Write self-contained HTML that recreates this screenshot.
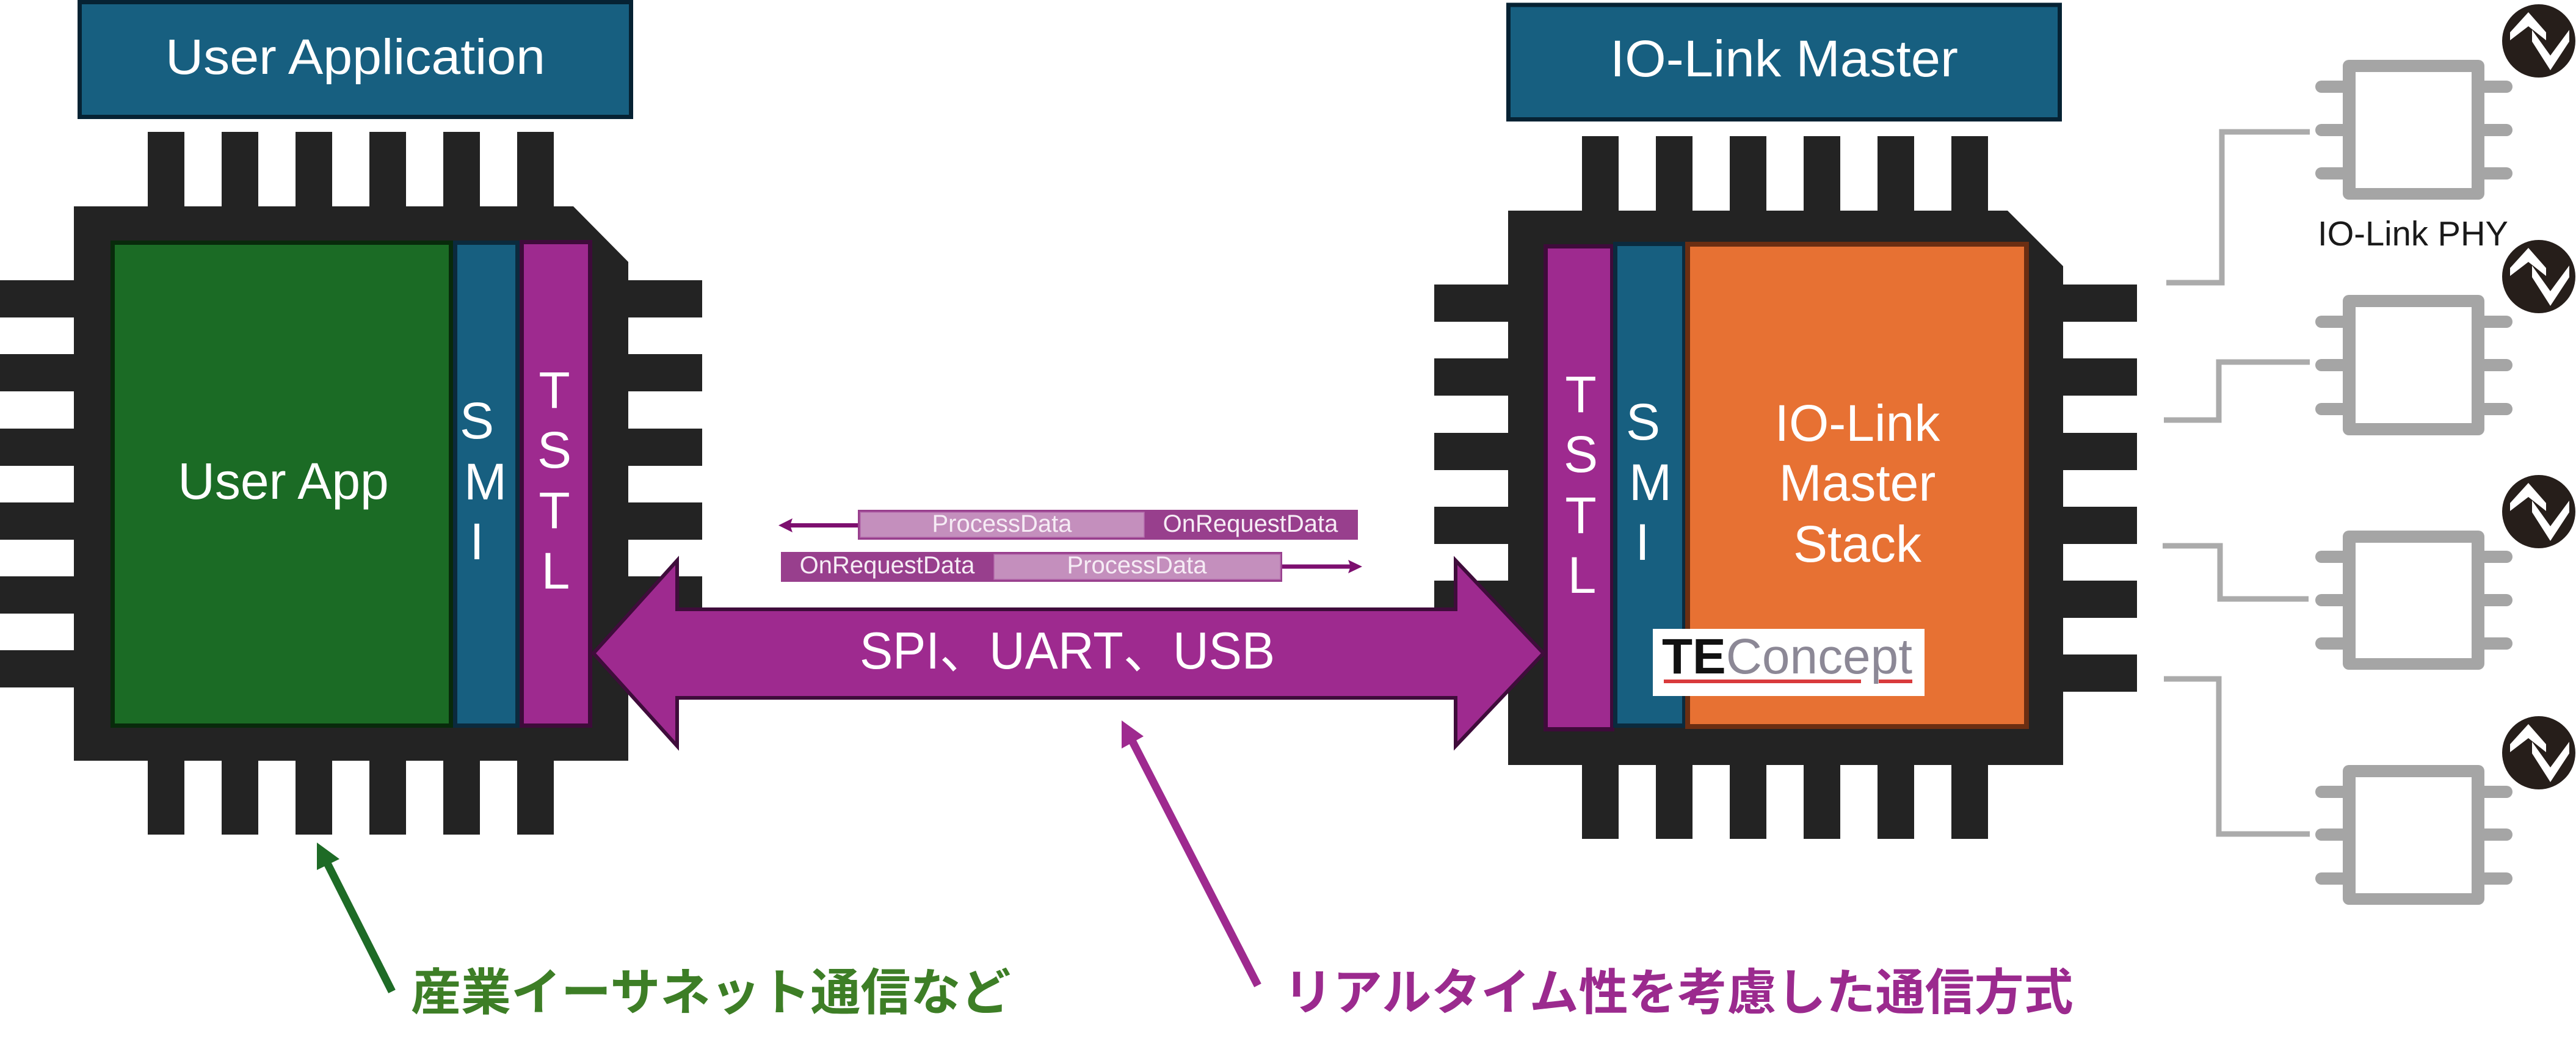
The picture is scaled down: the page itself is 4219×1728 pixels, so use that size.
<!DOCTYPE html>
<html><head><meta charset="utf-8">
<style>
html,body{margin:0;padding:0;background:#fff;width:4219px;height:1728px;overflow:hidden}
svg{display:block}
</style></head>
<body>
<svg width="4219" height="1728" viewBox="0 0 4219 1728" xmlns="http://www.w3.org/2000/svg" font-family="'Liberation Sans','Noto Sans CJK JP',sans-serif">
<rect x="0" y="0" width="4219" height="1728" fill="#fff"/>

<!-- Top boxes -->
<rect x="130.5" y="3.5" width="903" height="188" fill="#175f80" stroke="#062233" stroke-width="7"/>
<text x="582" y="121" font-size="82" fill="#fff" text-anchor="middle" textLength="622" lengthAdjust="spacingAndGlyphs">User Application</text>
<rect x="2470.5" y="8" width="903" height="187.5" fill="#175f80" stroke="#062233" stroke-width="7"/>
<text x="2922" y="125" font-size="84" fill="#fff" text-anchor="middle" textLength="570" lengthAdjust="spacingAndGlyphs">IO-Link Master</text>

<!-- Left chip -->
<g fill="#232323">
  <rect x="242" y="216" width="60" height="130"/><rect x="363" y="216" width="60" height="130"/><rect x="484" y="216" width="60" height="130"/><rect x="605" y="216" width="60" height="130"/><rect x="726" y="216" width="60" height="130"/><rect x="847" y="216" width="60" height="130"/>
  <rect x="242" y="1240" width="60" height="127"/><rect x="363" y="1240" width="60" height="127"/><rect x="484" y="1240" width="60" height="127"/><rect x="605" y="1240" width="60" height="127"/><rect x="726" y="1240" width="60" height="127"/><rect x="847" y="1240" width="60" height="127"/>
  <rect x="0" y="459" width="130" height="61"/><rect x="0" y="580" width="130" height="61"/><rect x="0" y="702" width="130" height="61"/><rect x="0" y="823" width="130" height="61"/><rect x="0" y="944" width="130" height="61"/><rect x="0" y="1065" width="130" height="61"/>
  <rect x="1020" y="459" width="130" height="61"/><rect x="1020" y="580" width="130" height="61"/><rect x="1020" y="702" width="130" height="61"/><rect x="1020" y="823" width="130" height="61"/><rect x="1020" y="944" width="130" height="61"/><rect x="1020" y="1065" width="130" height="61"/>
  <polygon points="121,338 939,338 1029,429 1029,1246 121,1246"/>
</g>
<rect x="184.5" y="397.5" width="554" height="791" fill="#1b6b25" stroke="#082a0b" stroke-width="7"/>
<rect x="745.5" y="397.5" width="102" height="791" fill="#175f80" stroke="#0b2a3d" stroke-width="7"/>
<rect x="854.5" y="396.5" width="112" height="792" fill="#9e2a8f" stroke="#3e0b3a" stroke-width="7"/>
<text x="464" y="817" font-size="84" fill="#fff" text-anchor="middle">User App</text>
<g font-size="84" fill="#fff" text-anchor="middle">
  <text x="781" y="718">S</text><text x="795" y="818">M</text><text x="781" y="916">I</text>
  <text x="908" y="668">T</text><text x="908" y="766">S</text><text x="908" y="865">T</text><text x="910" y="964">L</text>
</g>

<!-- Right chip -->
<g fill="#232323">
  <rect x="2591" y="223" width="60" height="130"/><rect x="2712" y="223" width="60" height="130"/><rect x="2833" y="223" width="60" height="130"/><rect x="2954" y="223" width="60" height="130"/><rect x="3075" y="223" width="60" height="130"/><rect x="3196" y="223" width="60" height="130"/>
  <rect x="2591" y="1247" width="60" height="127"/><rect x="2712" y="1247" width="60" height="127"/><rect x="2833" y="1247" width="60" height="127"/><rect x="2954" y="1247" width="60" height="127"/><rect x="3075" y="1247" width="60" height="127"/><rect x="3196" y="1247" width="60" height="127"/>
  <rect x="2349" y="466" width="130" height="61"/><rect x="2349" y="587" width="130" height="61"/><rect x="2349" y="709" width="130" height="61"/><rect x="2349" y="830" width="130" height="61"/><rect x="2349" y="951" width="130" height="61"/><rect x="2349" y="1072" width="130" height="61"/>
  <rect x="3370" y="466" width="130" height="61"/><rect x="3370" y="587" width="130" height="61"/><rect x="3370" y="709" width="130" height="61"/><rect x="3370" y="830" width="130" height="61"/><rect x="3370" y="951" width="130" height="61"/><rect x="3370" y="1072" width="130" height="61"/>
  <polygon points="2470,345 3288,345 3379,436 3379,1253 2470,1253"/>
</g>
<rect x="2531.5" y="403.5" width="109" height="791" fill="#9e2a8f" stroke="#3e0b3a" stroke-width="7"/>
<rect x="2645.5" y="399.5" width="113" height="789" fill="#175f80" stroke="#0b2a3d" stroke-width="7"/>
<rect x="2764" y="400" width="555" height="790" fill="#e77133" stroke="#6b2e12" stroke-width="8"/>
<g font-size="84" fill="#fff" text-anchor="middle">
  <text x="2589" y="675">T</text><text x="2589" y="773">S</text><text x="2589" y="873">T</text><text x="2591" y="971">L</text>
  <text x="2691" y="720">S</text><text x="2703" y="819">M</text><text x="2690" y="917">I</text>
  <text x="3042" y="722">IO-Link</text><text x="3042" y="820">Master</text><text x="3042" y="920">Stack</text>
</g>
<!-- TEConcept logo -->
<rect x="2707" y="1030" width="445" height="110" fill="#fff"/>
<rect x="2725" y="1113" width="323" height="6" fill="#d93a3c"/>
<rect x="3077" y="1113" width="55" height="6" fill="#d93a3c"/>
<text x="2722" y="1103" font-size="82" textLength="410" lengthAdjust="spacingAndGlyphs"><tspan font-weight="bold" fill="#111">TE</tspan><tspan fill="#8c8896">Concept</tspan></text>

<!-- Packet boxes -->
<rect x="1405" y="835" width="819" height="49" fill="#983f8d"/>
<rect x="1409" y="839" width="465" height="41" fill="#c48fbd" stroke="#b46aac" stroke-width="1.5"/>
<line x1="1405" y1="860.5" x2="1292" y2="860.5" stroke="#7d0f6f" stroke-width="7"/>
<polygon points="1275,860.5 1298,849 1294,860.5 1298,872" fill="#7d0f6f"/>
<rect x="1279" y="904" width="821" height="49" fill="#983f8d"/>
<rect x="1628" y="908" width="469" height="41" fill="#c48fbd" stroke="#b46aac" stroke-width="1.5"/>
<line x1="2100" y1="928" x2="2214" y2="928" stroke="#7d0f6f" stroke-width="7"/>
<polygon points="2231,928 2208,917 2212,928 2208,939" fill="#7d0f6f"/>
<g font-size="40" fill="#f6ecf5" text-anchor="middle">
  <text x="1641" y="871">ProcessData</text>
  <text x="2048" y="871">OnRequestData</text>
  <text x="1453" y="939">OnRequestData</text>
  <text x="1862" y="939">ProcessData</text>
</g>

<!-- Big double arrow -->
<polygon points="972,1070 1109,918 1109,998 2384,998 2384,918 2528,1070 2384,1222 2384,1143 1109,1143 1109,1222" fill="#9e2a8f" stroke="#3f0c3b" stroke-width="6" stroke-linejoin="miter"/>
<text x="1408" y="1095" font-size="85" fill="#fff" textLength="680" lengthAdjust="spacingAndGlyphs">SPI、UART、USB</text>

<!-- PHY chips -->
<g fill="#a5a5a5">
  <rect x="3792" y="132" width="60" height="20" rx="10"/><rect x="3792" y="203" width="60" height="20" rx="10"/><rect x="3792" y="274" width="60" height="20" rx="10"/>
  <rect x="4055" y="132" width="60" height="20" rx="10"/><rect x="4055" y="203" width="60" height="20" rx="10"/><rect x="4055" y="274" width="60" height="20" rx="10"/>
  <rect x="3837" y="98" width="232" height="229" rx="10"/>

  <rect x="3792" y="517" width="60" height="20" rx="10"/><rect x="3792" y="588" width="60" height="20" rx="10"/><rect x="3792" y="660" width="60" height="20" rx="10"/>
  <rect x="4055" y="517" width="60" height="20" rx="10"/><rect x="4055" y="588" width="60" height="20" rx="10"/><rect x="4055" y="660" width="60" height="20" rx="10"/>
  <rect x="3837" y="483" width="232" height="230" rx="10"/>

  <rect x="3792" y="902" width="60" height="20" rx="10"/><rect x="3792" y="973" width="60" height="20" rx="10"/><rect x="3792" y="1044" width="60" height="20" rx="10"/>
  <rect x="4055" y="902" width="60" height="20" rx="10"/><rect x="4055" y="973" width="60" height="20" rx="10"/><rect x="4055" y="1044" width="60" height="20" rx="10"/>
  <rect x="3837" y="869" width="232" height="228" rx="10"/>

  <rect x="3792" y="1287" width="60" height="20" rx="10"/><rect x="3792" y="1357" width="60" height="20" rx="10"/><rect x="3792" y="1429" width="60" height="20" rx="10"/>
  <rect x="4055" y="1287" width="60" height="20" rx="10"/><rect x="4055" y="1357" width="60" height="20" rx="10"/><rect x="4055" y="1429" width="60" height="20" rx="10"/>
  <rect x="3837" y="1253" width="232" height="229" rx="10"/>
</g>
<g fill="#fff">
  <rect x="3858" y="118" width="190" height="190"/>
  <rect x="3858" y="503" width="190" height="190"/>
  <rect x="3858" y="889" width="190" height="189"/>
  <rect x="3858" y="1273" width="190" height="190"/>
</g>
<text x="3796" y="402" font-size="57" fill="#1a1a1a" textLength="312" lengthAdjust="spacingAndGlyphs">IO-Link PHY</text>

<!-- Connectors -->
<g fill="none" stroke="#ababab" stroke-width="9" stroke-linejoin="miter">
  <polyline points="3548,463 3639,463 3639,216 3783,216"/>
  <polyline points="3544,688 3634,688 3634,593 3783,593"/>
  <polyline points="3542,894 3636,894 3636,981 3781,981"/>
  <polyline points="3544,1112 3634,1112 3634,1366 3783,1366"/>
</g>

<!-- IO-Link icons -->
<g transform="translate(4158,67)"><circle r="60" fill="#261e1a"/><polygon points="-47,-14 -17,-47 12,-14 12,-1 -17,-24 -47,-1" fill="#fff"/><polygon points="-11,-18 19,24 50,-18 50,1 19,48 -11,1" fill="#fff"/></g>
<g transform="translate(4158,453)"><circle r="60" fill="#261e1a"/><polygon points="-47,-14 -17,-47 12,-14 12,-1 -17,-24 -47,-1" fill="#fff"/><polygon points="-11,-18 19,24 50,-18 50,1 19,48 -11,1" fill="#fff"/></g>
<g transform="translate(4158,838)"><circle r="60" fill="#261e1a"/><polygon points="-47,-14 -17,-47 12,-14 12,-1 -17,-24 -47,-1" fill="#fff"/><polygon points="-11,-18 19,24 50,-18 50,1 19,48 -11,1" fill="#fff"/></g>
<g transform="translate(4158,1233)"><circle r="60" fill="#261e1a"/><polygon points="-47,-14 -17,-47 12,-14 12,-1 -17,-24 -47,-1" fill="#fff"/><polygon points="-11,-18 19,24 50,-18 50,1 19,48 -11,1" fill="#fff"/></g>

<!-- Callout arrows -->
<line x1="642" y1="1624" x2="535" y2="1412" stroke="#1e6b26" stroke-width="13"/>
<polygon points="519,1380 556,1407 519,1425" fill="#1e6b26"/>
<line x1="2060" y1="1614" x2="1853" y2="1211" stroke="#9e2a8f" stroke-width="13"/>
<polygon points="1837,1180 1873,1206 1837,1226" fill="#9e2a8f"/>

<!-- Callout texts -->
<text x="673" y="1654" font-size="82" font-weight="bold" fill="#3d7e26">産業イーサネット通信など</text>
<text x="2102" y="1654" font-size="81" font-weight="bold" fill="#9b2a8e">リアルタイム性を考慮した通信方式</text>
</svg>
</body></html>
